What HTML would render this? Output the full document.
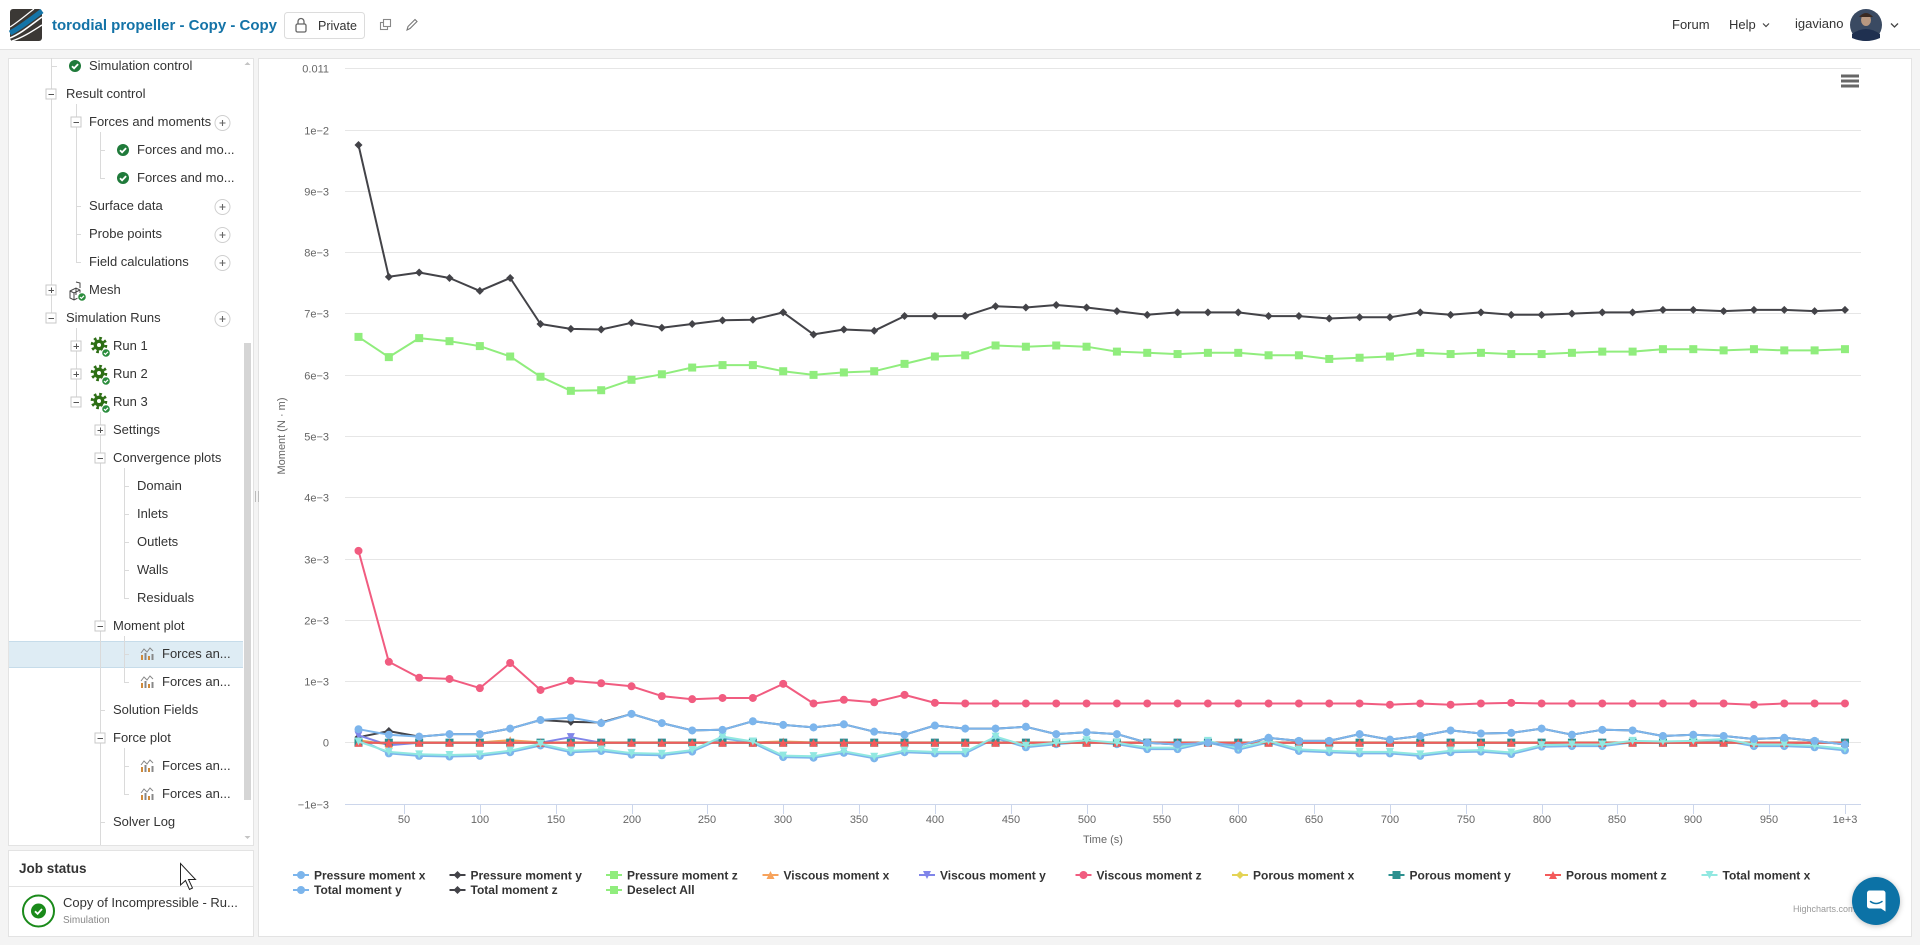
<!DOCTYPE html>
<html><head><meta charset="utf-8">
<style>
*{margin:0;padding:0;box-sizing:border-box}
html,body{width:1920px;height:945px;overflow:hidden;background:#f4f4f4;font-family:"Liberation Sans",Arial,sans-serif;color:#333}
#hdr{position:absolute;left:0;top:0;width:1920px;height:50px;background:#fff;border-bottom:1px solid #e2e2e2}
.panel{position:absolute;background:#fff;border:1px solid #e3e3e3}
.t{position:absolute;font-size:13px;line-height:16px;height:16px;white-space:nowrap;color:#333}
.h{position:absolute;white-space:nowrap}
svg{position:absolute;left:0;top:0;overflow:visible}
</style></head><body>

<!-- HEADER -->
<div id="hdr"></div>
<svg width="1920" height="50" style="left:0;top:0">
  <rect x="10" y="9" width="32" height="32" rx="3" fill="#3b3835"/>
  <path d="M10 33 C20 28 30 20 42 11" stroke="#1474a8" stroke-width="5" fill="none"/>
  <path d="M10 38 C22 33 32 24 42 17" stroke="#fff" stroke-width="1.6" fill="none"/>
  <path d="M12 41 C24 37 34 30 42 25" stroke="#fff" stroke-width="1.4" fill="none"/>
  <path d="M10 27 C18 22 26 15 34 9" stroke="#fff" stroke-width="1.2" fill="none"/>
  <rect x="284.5" y="12.5" width="80" height="26" rx="3" fill="#fff" stroke="#dcdcdc"/>
  <rect x="296" y="24" width="10" height="8" rx="1.5" fill="none" stroke="#666" stroke-width="1.3"/>
  <path d="M298 24 V21.5 a3 3 0 0 1 6 0 V24" fill="none" stroke="#666" stroke-width="1.3"/>
  <rect x="380.5" y="22.5" width="7" height="7" fill="#fff" stroke="#888" stroke-width="1.1"/>
  <rect x="383.5" y="19.5" width="7" height="7" fill="#fff" stroke="#888" stroke-width="1.1"/>
  <path d="M407 30 L408 26.5 L415 19.5 L417 21.5 L410 28.5 Z" fill="none" stroke="#777" stroke-width="1.1"/>
  <path d="M1763 23.5 L1766 26.5 L1769 23.5" fill="none" stroke="#444" stroke-width="1.2"/>
  <circle cx="1866" cy="25" r="16" fill="#3a4a62"/>
  <path d="M1852 34 Q1866 24 1880 34 L1880 38 Q1866 44 1852 38 Z" fill="#1f3050"/>
  <ellipse cx="1866" cy="20" rx="5" ry="6" fill="#b89880"/>
  <path d="M1859 17 Q1866 9 1873 17" fill="#3a2a22"/>
  <path d="M1891 23.5 L1894.5 27 L1898 23.5" fill="none" stroke="#444" stroke-width="1.3"/>
</svg>
<div class="h" style="left:52px;top:17px;font-size:15px;line-height:18px;font-weight:bold;color:#1473a7">torodial propeller - Copy - Copy</div>
<div class="h" style="left:318px;top:18px;font-size:12.5px;line-height:16px;color:#333">Private</div>
<div class="h" style="left:1672px;top:17px;font-size:13px;line-height:16px">Forum</div>
<div class="h" style="left:1729px;top:17px;font-size:13px;line-height:16px">Help</div>
<div class="h" style="left:1795px;top:16px;font-size:13px;line-height:16px">igaviano</div>

<!-- LEFT TREE PANEL -->
<div class="panel" style="left:8px;top:58px;width:246px;height:788px"></div>
<div style="position:absolute;left:9px;top:641px;width:234px;height:27px;background:#deecf4;border-top:1px solid #c6dcea;border-bottom:1px solid #c6dcea"></div>

<svg width="260" height="945">
  <defs>
    <g id="chk"><circle r="6" fill="#1f7a3a"/><path d="M-3 0.2 L-0.9 2.3 L3.1 -1.9" stroke="#fff" stroke-width="1.8" fill="none"/></g>
    <g id="bchk"><circle r="4.3" fill="#2a8c3c" stroke="#fff" stroke-width="1"/><path d="M-2 0 L-0.6 1.4 L2 -1.2" stroke="#fff" stroke-width="1.2" fill="none"/></g>
    <g id="mn"><rect x="-5" y="-5" width="10" height="10" fill="#fff" stroke="#c9c9c9"/><path d="M-2.5 0.5 H3" stroke="#555"/></g>
    <g id="pl"><rect x="-5" y="-5" width="10" height="10" fill="#fff" stroke="#c9c9c9"/><path d="M-2.5 0.5 H3 M0.5 -2.5 V3" stroke="#555"/></g>
    <g id="pc"><circle r="7.5" fill="#fff" stroke="#cfcfcf"/><path d="M-3 0 H3 M0 -3 V3" stroke="#666" stroke-width="1.1"/></g>
    <g id="gear"><circle r="6.8" fill="none" stroke="#2c6e14" stroke-width="3" stroke-dasharray="2.6 2.74"/><circle r="5.4" fill="#2c6e14"/><circle r="2" fill="#fff"/></g>
    <g id="chart"><path d="M-6 -1 L-3 -5 L0 -2 L3 -6 L6 -3" stroke="#888" stroke-width="1" fill="none"/><rect x="-6" y="1" width="2" height="5" fill="#d08a3a"/><rect x="-2.5" y="-1" width="2" height="7" fill="#888"/><rect x="1" y="2" width="2" height="4" fill="#d08a3a"/><rect x="4.5" y="0" width="2" height="6" fill="#888"/></g>
  </defs>
  <g stroke="#dadada" stroke-width="1" fill="none">
    <path d="M51.5 58 V313"/>
    <path d="M76.5 104 V262 M76.5 328 V397"/>
    <path d="M100.5 132 V178 M100.5 412 V845"/>
    <path d="M124.5 468 V598 M124.5 636 V682 M124.5 748 V794"/>
    <path d="M51 66.5 H57 M76 206.5 H81 M76 234.5 H81 M76 262.5 H81 M100 150.5 H105 M100 178.5 H105 M124 486.5 H129 M124 514.5 H129 M124 542.5 H129 M124 570.5 H129 M124 598.5 H129 M124 654.5 H129 M124 682.5 H129 M124 766.5 H129 M124 794.5 H129 M100 710.5 H105 M100 822.5 H105"/>
  </g>
  <use href="#chk" x="75" y="66"/>
  <use href="#mn" x="51" y="94"/>
  <use href="#mn" x="76" y="122"/><use href="#pc" x="222.5" y="123"/>
  <use href="#chk" x="123" y="150"/>
  <use href="#chk" x="123" y="178"/>
  <use href="#pc" x="222.5" y="207"/>
  <use href="#pc" x="222.5" y="235"/>
  <use href="#pc" x="222.5" y="263"/>
  <use href="#pl" x="51" y="290"/>
  <g stroke="#444" stroke-width="1" fill="none"><path d="M70 291 L76 288 L80 290 L80 297 L74 300 L70 298 Z M76 288 V295 M70 291 L74 293 L80 290 M74 293 V300"/><path d="M76 282 L80 283 V288"/></g>
  <use href="#bchk" x="82" y="297"/>
  <use href="#mn" x="51" y="318"/><use href="#pc" x="222.5" y="319"/>
  <use href="#pl" x="76" y="346"/><use href="#gear" x="99" y="345"/><use href="#bchk" x="106" y="353"/>
  <use href="#pl" x="76" y="374"/><use href="#gear" x="99" y="373"/><use href="#bchk" x="106" y="381"/>
  <use href="#mn" x="76" y="402"/><use href="#gear" x="99" y="401"/><use href="#bchk" x="106" y="409"/>
  <use href="#pl" x="100" y="430"/>
  <use href="#mn" x="100" y="458"/>
  <use href="#mn" x="100" y="626"/>
  <use href="#chart" x="147" y="654"/>
  <use href="#chart" x="147" y="682"/>
  <use href="#mn" x="100" y="738"/>
  <use href="#chart" x="147" y="766"/>
  <use href="#chart" x="147" y="794"/>
  <rect x="244" y="343" width="7" height="457" fill="#d5d5d5"/>
  <path d="M244.5 65 L247.5 62 L250.5 65 Z" fill="#c4c4c4"/>
  <path d="M244.5 836 L247.5 839 L250.5 836 Z" fill="#c4c4c4"/>
</svg>

<div class="t" style="left:89px;top:58px">Simulation control</div>
<div class="t" style="left:66px;top:86px">Result control</div>
<div class="t" style="left:89px;top:114px">Forces and moments</div>
<div class="t" style="left:137px;top:142px">Forces and mo...</div>
<div class="t" style="left:137px;top:170px">Forces and mo...</div>
<div class="t" style="left:89px;top:198px">Surface data</div>
<div class="t" style="left:89px;top:226px">Probe points</div>
<div class="t" style="left:89px;top:254px">Field calculations</div>
<div class="t" style="left:89px;top:282px">Mesh</div>
<div class="t" style="left:66px;top:310px">Simulation Runs</div>
<div class="t" style="left:113px;top:338px">Run 1</div>
<div class="t" style="left:113px;top:366px">Run 2</div>
<div class="t" style="left:113px;top:394px">Run 3</div>
<div class="t" style="left:113px;top:422px">Settings</div>
<div class="t" style="left:113px;top:450px">Convergence plots</div>
<div class="t" style="left:137px;top:478px">Domain</div>
<div class="t" style="left:137px;top:506px">Inlets</div>
<div class="t" style="left:137px;top:534px">Outlets</div>
<div class="t" style="left:137px;top:562px">Walls</div>
<div class="t" style="left:137px;top:590px">Residuals</div>
<div class="t" style="left:113px;top:618px">Moment plot</div>
<div class="t" style="left:162px;top:646px">Forces an...</div>
<div class="t" style="left:162px;top:674px">Forces an...</div>
<div class="t" style="left:113px;top:702px">Solution Fields</div>
<div class="t" style="left:113px;top:730px">Force plot</div>
<div class="t" style="left:162px;top:758px">Forces an...</div>
<div class="t" style="left:162px;top:786px">Forces an...</div>
<div class="t" style="left:113px;top:814px">Solver Log</div>

<!-- JOB STATUS -->
<div class="panel" style="left:8px;top:850px;width:246px;height:87px"></div>
<div style="position:absolute;left:9px;top:886px;width:244px;height:1px;background:#e3e3e3"></div>
<div class="h" style="left:19px;top:861px;font-size:13.5px;line-height:16px;font-weight:bold;color:#333">Job status</div>
<div class="h" style="left:63px;top:895px;font-size:13px;line-height:16px;color:#333">Copy of Incompressible - Ru...</div>
<div class="h" style="left:63px;top:915px;font-size:10px;line-height:12px;color:#888">Simulation</div>
<svg width="260" height="945">
  <circle cx="38.5" cy="911" r="15.5" fill="none" stroke="#1a8a1a" stroke-width="2"/>
  <circle cx="38.5" cy="911" r="7.5" fill="#1a8a1a"/>
  <path d="M35 911.3 L37.6 913.8 L42 909" stroke="#fff" stroke-width="1.8" fill="none"/>
  <path d="M180.5 863.5 L180.5 885 L185.5 880.5 L189.5 889.5 L192.5 888 L188.5 879.5 L195.5 879.5 Z" fill="#fff" stroke="#222" stroke-width="1"/>
</svg>

<!-- CHART PANEL -->
<div class="panel" style="left:258px;top:58px;width:1654px;height:879px"></div>
<svg width="1920" height="945">
  <path d="M255.5 491 V502 M258.5 491 V502" stroke="#bbb" stroke-width="1"/>
  <g stroke="#e6e6e6" stroke-width="1">
    <path d="M345 68.5 H1861 M345 130.5 H1861 M345 191.5 H1861 M345 252.5 H1861 M345 313.5 H1861 M345 375.5 H1861 M345 436.5 H1861 M345 497.5 H1861 M345 559.5 H1861 M345 620.5 H1861 M345 681.5 H1861 M345 742.5 H1861"/>
  </g>
  <path d="M345 804.5 H1861" stroke="#ccd6eb" stroke-width="1"/>
  <g stroke="#ccd6eb" stroke-width="1">
    <path d="M404.5 804 V814 M480.5 804 V814 M556.5 804 V814 M632.5 804 V814 M707.5 804 V814 M783.5 804 V814 M859.5 804 V814 M935.5 804 V814 M1011.5 804 V814 M1087.5 804 V814 M1162.5 804 V814 M1238.5 804 V814 M1314.5 804 V814 M1390.5 804 V814 M1466.5 804 V814 M1542.5 804 V814 M1617.5 804 V814 M1693.5 804 V814 M1769.5 804 V814 M1845.5 804 V814"/>
  </g>
  <g font-family="Liberation Sans, Arial, sans-serif" font-size="11" fill="#666" text-anchor="end">
    <text x="329" y="72.5">0.011</text>
    <text x="329" y="134.5">1e−2</text>
    <text x="329" y="195.5">9e−3</text>
    <text x="329" y="256.5">8e−3</text>
    <text x="329" y="317.5">7e−3</text>
    <text x="329" y="379.5">6e−3</text>
    <text x="329" y="440.5">5e−3</text>
    <text x="329" y="501.5">4e−3</text>
    <text x="329" y="563.5">3e−3</text>
    <text x="329" y="624.5">2e−3</text>
    <text x="329" y="685.5">1e−3</text>
    <text x="329" y="746.5">0</text>
    <text x="329" y="808.5">−1e−3</text>
  </g>
  <g font-family="Liberation Sans, Arial, sans-serif" font-size="11" fill="#666" text-anchor="middle">
    <text x="404" y="823">50</text>
    <text x="480" y="823">100</text>
    <text x="556" y="823">150</text>
    <text x="632" y="823">200</text>
    <text x="707" y="823">250</text>
    <text x="783" y="823">300</text>
    <text x="859" y="823">350</text>
    <text x="935" y="823">400</text>
    <text x="1011" y="823">450</text>
    <text x="1087" y="823">500</text>
    <text x="1162" y="823">550</text>
    <text x="1238" y="823">600</text>
    <text x="1314" y="823">650</text>
    <text x="1390" y="823">700</text>
    <text x="1466" y="823">750</text>
    <text x="1542" y="823">800</text>
    <text x="1617" y="823">850</text>
    <text x="1693" y="823">900</text>
    <text x="1769" y="823">950</text>
    <text x="1845" y="823">1e+3</text>
    <text x="1103" y="843">Time (s)</text>
    <text x="0" y="0" transform="translate(285 436) rotate(-90)">Moment (N · m)</text>
  </g>
  <g id="series"></g>
  <path d="M1841 76 H1859 M1841 81 H1859 M1841 86 H1859" stroke="#666" stroke-width="3"/>
  <g id="legend"></g>
  <g font-family="Liberation Sans, Arial, sans-serif" font-size="12" font-weight="bold" fill="#333">
    <text x="314" y="879.5">Pressure moment x</text>
    <text x="470.5" y="879.5">Pressure moment y</text>
    <text x="627" y="879.5">Pressure moment z</text>
    <text x="783.5" y="879.5">Viscous moment x</text>
    <text x="940" y="879.5">Viscous moment y</text>
    <text x="1096.5" y="879.5">Viscous moment z</text>
    <text x="1253" y="879.5">Porous moment x</text>
    <text x="1409.5" y="879.5">Porous moment y</text>
    <text x="1566" y="879.5">Porous moment z</text>
    <text x="1722.5" y="879.5">Total moment x</text>
    <text x="314" y="894">Total moment y</text>
    <text x="470.5" y="894">Total moment z</text>
    <text x="627" y="894">Deselect All</text>
  </g>
  <text x="1793" y="912" font-family="Liberation Sans, Arial, sans-serif" font-size="9" fill="#999">Highcharts.com</text>
</svg>

<!-- chat bubble -->
<div style="position:absolute;left:1852px;top:877px;width:48px;height:48px;border-radius:50%;background:#0c72a6;box-shadow:0 1px 6px rgba(0,0,0,0.25)"></div>
<svg width="1920" height="945">
  <path d="M1867 893 a2.5 2.5 0 0 1 2.5 -2.5 H1883 a2.5 2.5 0 0 1 2.5 2.5 V911.5 L1881 908.5 H1869.5 a2.5 2.5 0 0 1 -2.5 -2.5 Z" fill="#fff"/>
  <path d="M1870.5 901.5 Q1876 905.5 1882 901.5" stroke="#0c72a6" stroke-width="1.5" fill="none" stroke-linecap="round"/>
</svg>

<script>
(function(){
var NS='http://www.w3.org/2000/svg';
function X(t){return 328.16+1.5168*t;}
function Y(v){return 742.7-61.3*v;}
function fill(n,v){var a=[];for(var i=0;i<n;i++)a.push(v);return a;}
var tz=[9.75,7.60,7.67,7.58,7.37,7.58,6.83,6.75,6.74,6.85,6.77,6.83,6.89,6.90,7.02,6.66,6.74,6.72,6.96,6.96,6.96,7.12,7.10,7.14,7.10,7.04,6.98,7.02,7.02,7.02,6.96,6.96,6.92,6.94,6.94,7.02,6.98,7.02,6.98,6.98,7.00,7.02,7.02,7.06,7.06,7.04,7.06,7.06,7.04,7.06];
var pz=[6.62,6.29,6.60,6.55,6.47,6.30,5.97,5.74,5.75,5.92,6.01,6.12,6.16,6.16,6.06,6.00,6.04,6.06,6.18,6.30,6.32,6.48,6.46,6.48,6.46,6.38,6.36,6.34,6.36,6.36,6.32,6.32,6.26,6.28,6.30,6.36,6.34,6.36,6.34,6.34,6.36,6.38,6.38,6.42,6.42,6.40,6.42,6.40,6.40,6.42];
var vz=[3.13,1.32,1.06,1.04,0.89,1.30,0.86,1.01,0.97,0.92,0.76,0.71,0.73,0.73,0.96,0.64,0.70,0.66,0.78,0.65]
  .concat(fill(14,0.64)).concat([0.62,0.64,0.62,0.64,0.65]).concat(fill(7,0.64)).concat([0.62,0.64,0.64,0.64]);
var ty=[0.22,0.13,0.10,0.14,0.14,0.23,0.37,0.41,0.32,0.47,0.32,0.20,0.21,0.35,0.29,0.25,0.30,0.18,0.13,0.28,0.23,0.23,0.26,0.14,0.17,0.14,0.0,-0.03,0.0,-0.05,0.08,0.03,0.03,0.14,0.05,0.11,0.20,0.15,0.16,0.23,0.13,0.21,0.20,0.11,0.13,0.11,0.06,0.08,0.03,-0.03];
var py=ty.slice();py[0]=0.09;py[1]=0.19;py[7]=0.34;py[8]=0.33;
var tx=[0.02,-0.15,-0.19,-0.20,-0.19,-0.13,-0.02,-0.13,-0.11,-0.17,-0.18,-0.12,0.10,0.02,-0.21,-0.22,-0.14,-0.23,-0.13,-0.15,-0.15,0.10,-0.05,0.0,0.04,0.0,-0.08,-0.08,0.03,-0.09,0.03,-0.11,-0.13,-0.15,-0.15,-0.19,-0.13,-0.12,-0.16,-0.04,-0.03,-0.03,0.03,0.02,0.03,0.06,-0.03,-0.03,-0.05,-0.10];
var px=tx.map(function(v){return v-0.025;});px[0]=0.06;
var vy=fill(50,0);vy[0]=0.12;vy[1]=-0.04;vy[7]=0.09;
var vx=fill(50,0.005);vx[0]=0.04;vx[1]=-0.03;vx[5]=0.04;vx[14]=0.02;
var z=fill(50,0);
var S=[
 {c:'#7cb5ec',m:'circle',d:px},
 {c:'#434348',m:'diamond',d:py},
 {c:'#90ed7d',m:'square',d:pz},
 {c:'#f7a35c',m:'triangle',d:vx},
 {c:'#8085e9',m:'tdown',d:vy},
 {c:'#f15c80',m:'circle',d:vz},
 {c:'#e4d354',m:'diamond',d:z},
 {c:'#2b908f',m:'square',d:z},
 {c:'#f45b5b',m:'triangle',d:z},
 {c:'#91e8e1',m:'tdown',d:tx},
 {c:'#7cb5ec',m:'circle',d:ty},
 {c:'#434348',m:'diamond',d:tz}
];
function mk(type,x,y,c){
  var e;
  if(type==='circle'){e=document.createElementNS(NS,'circle');e.setAttribute('cx',x);e.setAttribute('cy',y);e.setAttribute('r',4);}
  else if(type==='square'){e=document.createElementNS(NS,'rect');e.setAttribute('x',x-4);e.setAttribute('y',y-4);e.setAttribute('width',8);e.setAttribute('height',8);}
  else{
    e=document.createElementNS(NS,'path');var d;
    if(type==='diamond')d='M'+x+' '+(y-4)+'L'+(x+4)+' '+y+'L'+x+' '+(y+4)+'L'+(x-4)+' '+y+'Z';
    else if(type==='triangle')d='M'+x+' '+(y-4)+'L'+(x+4)+' '+(y+4)+'L'+(x-4)+' '+(y+4)+'Z';
    else d='M'+(x-4)+' '+(y-4)+'L'+(x+4)+' '+(y-4)+'L'+x+' '+(y+4)+'Z';
    e.setAttribute('d',d);
  }
  e.setAttribute('fill',c);
  return e;
}
var g=document.getElementById('series');
S.forEach(function(s){
  var gg=document.createElementNS(NS,'g');
  var pts=s.d.map(function(v,i){return X(20+20*i).toFixed(1)+','+Y(v).toFixed(1);});
  var pl=document.createElementNS(NS,'polyline');
  pl.setAttribute('points',pts.join(' '));
  pl.setAttribute('fill','none');pl.setAttribute('stroke',s.c);pl.setAttribute('stroke-width','2');
  pl.setAttribute('stroke-linejoin','round');pl.setAttribute('stroke-linecap','round');
  gg.appendChild(pl);
  s.d.forEach(function(v,i){gg.appendChild(mk(s.m,X(20+20*i),Y(v),s.c));});
  g.appendChild(gg);
});
var L=document.getElementById('legend');
var items=[[0,0],[1,0],[2,0],[3,0],[4,0],[5,0],[6,0],[7,0],[8,0],[9,0],[10,1],[11,1],[2,1]];
items.forEach(function(it,k){
  var s=S[it[0]];var col=k<10?k:(k-10);var cx=293+156.5*col;var cy=it[1]?890:875;
  var ln=document.createElementNS(NS,'path');
  ln.setAttribute('d','M'+cx+' '+cy+'H'+(cx+16));ln.setAttribute('stroke',s.c);ln.setAttribute('stroke-width','2');
  L.appendChild(ln);L.appendChild(mk(s.m,cx+8,cy,s.c));
});
})();
</script>
</body></html>
